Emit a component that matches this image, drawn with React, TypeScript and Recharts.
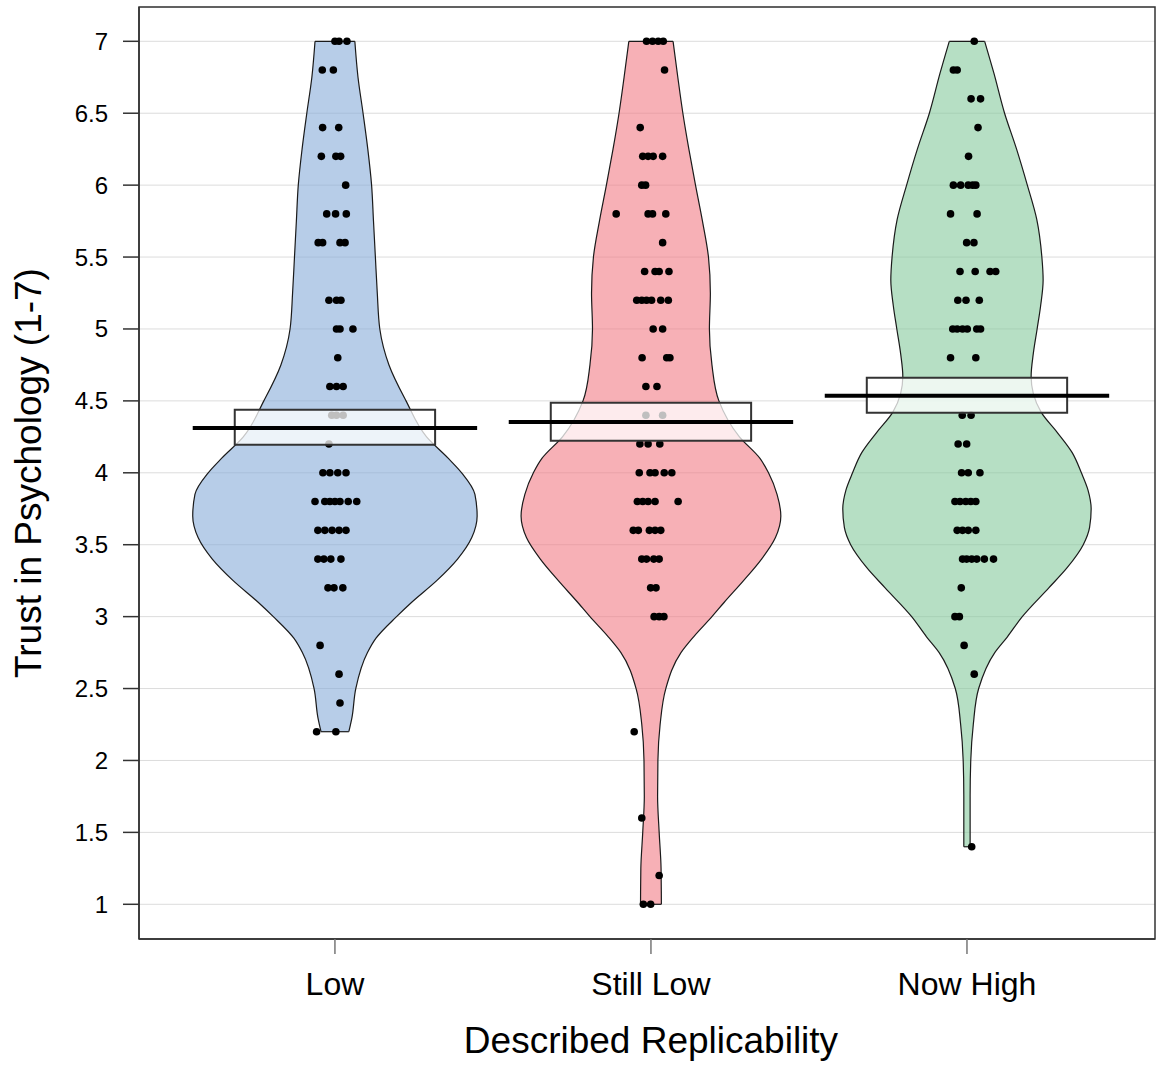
import {
  ComposedChart,
  Area,
  Scatter,
  XAxis,
  YAxis,
  CartesianGrid,
  ReferenceArea,
  ReferenceLine,
} from "recharts";

const groups = ["Low", "Still Low", "Now High"];
const fills = ["#87acd9", "#f17b85", "#85c99d"];
const means = [4.312, 4.354, 4.535];
const ciLow = [4.195, 4.223, 4.418];
const ciHigh = [4.438, 4.487, 4.661];
const yTicks = [1, 1.5, 2, 2.5, 3, 3.5, 4, 4.5, 5, 5.5, 6, 6.5, 7];

// density half-widths [value, half width in category units]
const lowDensity: [number, number][] = [
  [7, 0.063], [6.75, 0.073], [6.5, 0.089], [6.25, 0.104], [6, 0.116], [5.75, 0.122],
  [5.5, 0.128], [5.25, 0.134], [5, 0.142], [4.75, 0.171], [4.5, 0.225], [4.25, 0.29],
  [4.1, 0.359], [4, 0.401], [3.85, 0.443], [3.7, 0.45], [3.55, 0.433], [3.4, 0.388],
  [3.25, 0.322], [3.1, 0.243], [3, 0.195], [2.85, 0.13], [2.75, 0.103], [2.5, 0.066],
  [2.3, 0.054], [2.2, 0.044],
];
const stillLowDensity: [number, number][] = [
  [7, 0.07], [6.75, 0.085], [6.5, 0.101], [6.25, 0.12], [6, 0.141], [5.75, 0.163],
  [5.5, 0.182], [5.25, 0.188], [5, 0.185], [4.75, 0.193], [4.5, 0.215], [4.25, 0.28],
  [4.1, 0.345], [4, 0.372], [3.85, 0.399], [3.7, 0.411], [3.55, 0.394], [3.4, 0.35],
  [3.25, 0.293], [3.1, 0.232], [3, 0.193], [2.86, 0.135], [2.75, 0.095], [2.5, 0.047],
  [2.25, 0.029], [2, 0.022], [1.75, 0.021], [1.5, 0.026], [1.25, 0.032], [1, 0.033],
];
const nowHighDensity: [number, number][] = [
  [7, 0.056], [6.78, 0.085], [6.5, 0.119], [6.25, 0.157], [6, 0.191], [5.76, 0.221],
  [5.5, 0.237], [5.34, 0.241], [5.16, 0.233], [5, 0.222], [4.83, 0.21], [4.67, 0.203],
  [4.55, 0.21], [4.42, 0.235], [4.28, 0.286], [4.14, 0.333], [4, 0.362], [3.88, 0.383],
  [3.75, 0.393], [3.62, 0.388], [3.5, 0.368], [3.34, 0.317], [3.2, 0.259], [3, 0.175],
  [2.86, 0.128], [2.75, 0.088], [2.5, 0.037], [2.25, 0.02], [2, 0.012], [1.75, 0.01],
  [1.4, 0.01],
];

// raw responses [score, horizontal jitter]
const lowPoints: [number, number][] = [
  [7, 0], [7, 0.013], [7, 0.038],
  [6.8, -0.04], [6.8, -0.005],
  [6.4, -0.039], [6.4, 0.012],
  [6.2, -0.043], [6.2, 0.003], [6.2, 0.018],
  [6, 0.034],
  [5.8, -0.026], [5.8, 0.002], [5.8, 0.036],
  [5.6, -0.053], [5.6, -0.039], [5.6, 0.016], [5.6, 0.032],
  [5.2, -0.019], [5.2, 0.005], [5.2, 0.019],
  [5, 0.005], [5, 0.016], [5, 0.057],
  [4.8, 0.009],
  [4.6, -0.016], [4.6, 0.005], [4.6, 0.026],
  [4.4, -0.01], [4.4, 0.005], [4.4, 0.026],
  [4.2, -0.019],
  [4, -0.038], [4, -0.016], [4, 0.009], [4, 0.035],
  [3.8, -0.063], [3.8, -0.032], [3.8, -0.016], [3.8, 0], [3.8, 0.016], [3.8, 0.042], [3.8, 0.069],
  [3.6, -0.054], [3.6, -0.032], [3.6, -0.009], [3.6, 0.013], [3.6, 0.035],
  [3.4, -0.054], [3.4, -0.035], [3.4, -0.013], [3.4, 0.019],
  [3.2, -0.022], [3.2, -0.003], [3.2, 0.025],
  [2.8, -0.047], [2.6, 0.013], [2.4, 0.016],
  [2.2, -0.058], [2.2, 0.003],
];
const stillLowPoints: [number, number][] = [
  [7, -0.014], [7, 0.005], [7, 0.023], [7, 0.039],
  [6.8, 0.043],
  [6.4, -0.034],
  [6.2, -0.026], [6.2, -0.009], [6.2, 0.007], [6.2, 0.037],
  [6, -0.029], [6, -0.017],
  [5.8, -0.11], [5.8, -0.009], [5.8, 0.005], [5.8, 0.047],
  [5.6, 0.037],
  [5.4, -0.02], [5.4, 0.013], [5.4, 0.026], [5.4, 0.057],
  [5.2, -0.045], [5.2, -0.029], [5.2, -0.014], [5.2, 0.002], [5.2, 0.031], [5.2, 0.055],
  [5, 0.007], [5, 0.037],
  [4.8, -0.028], [4.8, 0.05], [4.8, 0.06],
  [4.6, -0.016], [4.6, 0.019],
  [4.4, -0.016], [4.4, 0.037],
  [4.2, -0.035], [4.2, -0.009], [4.2, 0.028],
  [4, -0.037], [4, -0.003], [4, 0.013], [4, 0.042], [4, 0.066],
  [3.8, -0.043], [3.8, -0.026], [3.8, -0.009], [3.8, 0.013], [3.8, 0.086],
  [3.6, -0.056], [3.6, -0.04], [3.6, -0.005], [3.6, 0.013], [3.6, 0.031],
  [3.4, -0.029], [3.4, -0.014], [3.4, 0.009], [3.4, 0.026],
  [3.2, -0.001], [3.2, 0.016],
  [3, 0.01], [3, 0.026], [3, 0.041],
  [2.2, -0.053], [1.6, -0.029], [1.2, 0.026],
  [1, -0.024], [1, -0.001],
];
const nowHighPoints: [number, number][] = [
  [7, 0.023],
  [6.8, -0.043], [6.8, -0.031],
  [6.6, 0.013], [6.6, 0.043],
  [6.4, 0.035],
  [6.2, 0.005],
  [6, -0.043], [6, -0.02], [6, 0.004], [6, 0.018], [6, 0.028],
  [5.8, -0.052], [5.8, 0.032],
  [5.6, -0.001], [5.6, 0.022],
  [5.4, -0.022], [5.4, 0.026], [5.4, 0.073], [5.4, 0.091],
  [5.2, -0.029], [5.2, -0.003], [5.2, 0.039],
  [5, -0.045], [5, -0.031], [5, -0.014], [5, 0.001], [5, 0.031], [5, 0.043],
  [4.8, -0.052], [4.8, 0.028],
  [4.4, -0.015], [4.4, 0.013],
  [4.2, -0.028], [4.2, -0.001],
  [4, -0.017], [4, 0.004], [4, 0.041],
  [3.8, -0.038], [3.8, -0.022], [3.8, -0.004], [3.8, 0.012], [3.8, 0.028],
  [3.6, -0.031], [3.6, -0.014], [3.6, 0.004], [3.6, 0.028],
  [3.4, -0.014], [3.4, -0.001], [3.4, 0.015], [3.4, 0.031], [3.4, 0.055], [3.4, 0.084],
  [3.2, -0.018],
  [3, -0.038], [3, -0.024],
  [2.8, -0.009], [2.6, 0.023], [1.4, 0.015],
];

const densities = [lowDensity, stillLowDensity, nowHighDensity];
const points = [lowPoints, stillLowPoints, nowHighPoints];

const xDomain = [0.38, 3.595];
const yDomain = [0.7587, 7.2385];
const font = "'Liberation Sans', Arial, sans-serif";

const BOX_HALF = 0.317;
const MEAN_HALF = 0.45;

export default function App() {
  const violinData = densities.map((rows, i) =>
    rows.map(([y, w]) => ({ y, range: [i + 1 - w, i + 1 + w] })),
  );
  const pointData = points.map((rows, i) => rows.map(([y, j]) => ({ x: i + 1 + j, y })));

  return (
    <div style={{ position: "absolute", left: 0, top: 0, fontFamily: font }}>
      <ComposedChart
        width={1156}
        height={1065}
        layout="vertical"
        margin={{ top: 7, right: 1, bottom: 0, left: 0 }}
        style={{ fontFamily: font }}
      >
        <CartesianGrid vertical={false} stroke="#dcdcdc" strokeWidth={1} />
        <XAxis
          type="number"
          dataKey="x"
          domain={xDomain}
          allowDataOverflow
          ticks={[1, 2, 3]}
          tickFormatter={(v) => groups[v - 1]}
          height={126}
          tickSize={15}
          tickMargin={18}
          tick={{ fontSize: 32, fill: "#000" }}
          tickLine={{ stroke: "#777", strokeWidth: 1.5 }}
          axisLine={{ stroke: "#333", strokeWidth: 1.5 }}
          label={{
            content: (p: any) => (
              <text
                x={p.viewBox.x + p.viewBox.width / 2 + 4}
                y={p.viewBox.y + 114}
                textAnchor="middle"
                fontSize={37}
                fill="#000"
              >
                Described Replicability
              </text>
            ),
          }}
        />
        <YAxis
          type="number"
          dataKey="y"
          reversed
          domain={yDomain}
          allowDataOverflow
          ticks={yTicks}
          width={139}
          tickSize={16}
          tickMargin={15}
          tick={{ fontSize: 24, fill: "#000" }}
          tickLine={{ stroke: "#333", strokeWidth: 1.5 }}
          axisLine={{ stroke: "#333", strokeWidth: 1.5 }}
          label={{
            content: (p: any) => {
              const cy = p.viewBox.y + p.viewBox.height / 2;
              return (
                <text
                  x={41}
                  y={cy}
                  transform={`rotate(-90, 41, ${cy})`}
                  textAnchor="middle"
                  fontSize={37}
                  fill="#000"
                >
                  Trust in Psychology (1-7)
                </text>
              );
            },
          }}
        />

        {/* plot frame */}
        <ReferenceArea
          x1={xDomain[0]}
          x2={xDomain[1]}
          y1={yDomain[0]}
          y2={yDomain[1]}
          fill="none"
          stroke="#333"
          strokeWidth={1.5}
          ifOverflow="visible"
          zIndex={50}
        />

        {violinData.map((rows, i) => (
          <Area
            key={`v${i}`}
            data={rows}
            dataKey="range"
            type="monotone"
            fill={fills[i]}
            fillOpacity={0.6}
            stroke="#1a1a1a"
            strokeWidth={1.2}
            dot={false}
            activeDot={false}
            isAnimationActive={false}
            zIndex={100}
          />
        ))}
        {densities.map((rows, i) =>
          [rows[0], rows[rows.length - 1]].map(([y, w], k) => (
            <ReferenceLine
              key={`cap${i}-${k}`}
              segment={[
                { x: i + 1 - w, y },
                { x: i + 1 + w, y },
              ]}
              stroke="#1a1a1a"
              strokeWidth={1.2}
              zIndex={110}
            />
          )),
        )}
        {pointData.map((rows, i) => (
          <Scatter
            key={`p${i}`}
            data={rows}
            isAnimationActive={false}
            zIndex={200}
            shape={(p: any) => <circle cx={p.cx} cy={p.cy} r={3.8} fill="#000" />}
          />
        ))}
        {groups.map((g, i) => (
          <ReferenceArea
            key={`box${g}`}
            x1={i + 1 - BOX_HALF}
            x2={i + 1 + BOX_HALF}
            y1={ciLow[i]}
            y2={ciHigh[i]}
            fill="#fff"
            fillOpacity={0.75}
            stroke="#333"
            strokeWidth={2}
            strokeOpacity={1}
            zIndex={300}
          />
        ))}
        {groups.map((g, i) => (
          <ReferenceLine
            key={`mean${g}`}
            segment={[
              { x: i + 1 - MEAN_HALF, y: means[i] },
              { x: i + 1 + MEAN_HALF, y: means[i] },
            ]}
            stroke="#000"
            strokeWidth={4}
            zIndex={400}
          />
        ))}
      </ComposedChart>
    </div>
  );
}
